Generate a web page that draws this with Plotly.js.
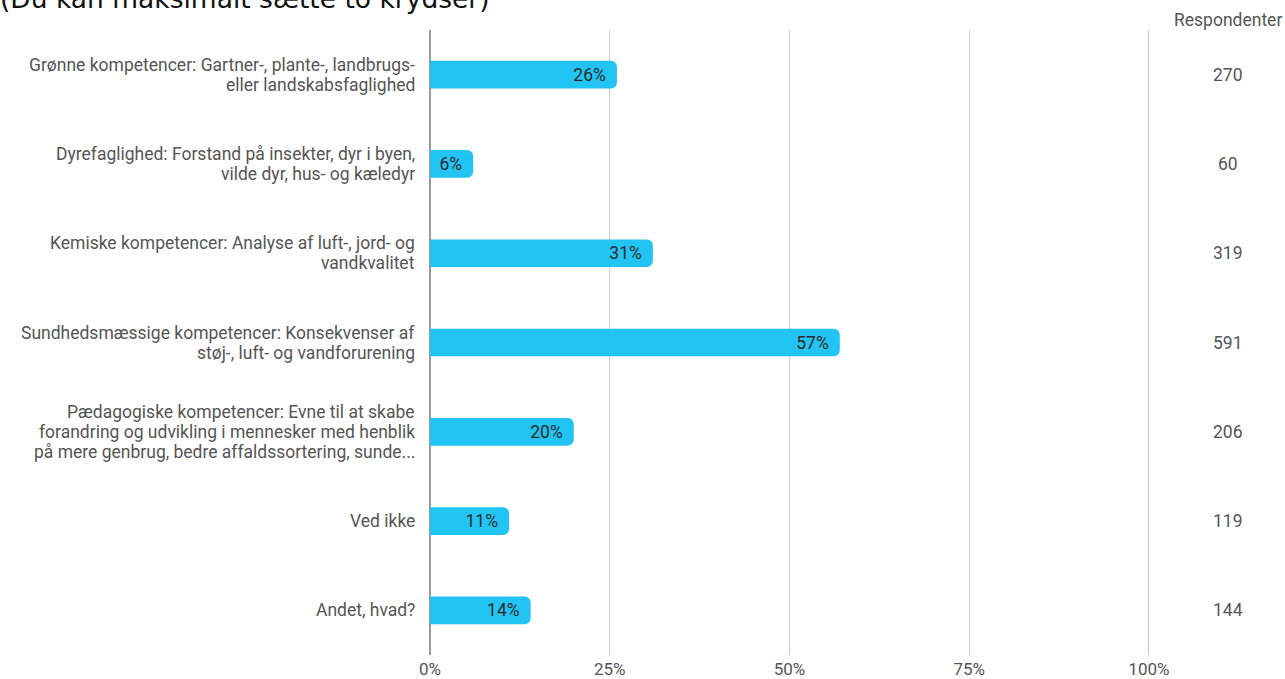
<!DOCTYPE html>
<html>
<head>
<meta charset="utf-8">
<script src="https://cdn.plot.ly/plotly-3.0.1.min.js"></script>
<style>html,body{margin:0;padding:0;background:#fff;}#chart{width:1285px;height:679px;}</style>
</head>
<body>
<div id="chart"></div>
<script>
const categories = [
  "Grønne kompetencer: Gartner-, plante-, landbrugs-<br>eller landskabsfaglighed",
  "Dyrefaglighed: Forstand på insekter, dyr i byen,<br>vilde dyr, hus- og kæledyr",
  "Kemiske kompetencer: Analyse af luft-, jord- og<br>vandkvalitet",
  "Sundhedsmæssige kompetencer: Konsekvenser af<br>støj-, luft- og vandforurening",
  "Pædagogiske kompetencer: Evne til at skabe<br>forandring og udvikling i mennesker med henblik<br>på mere genbrug, bedre affaldssortering, sunde...",
  "Ved ikke",
  "Andet, hvad?"
];
const shares = [0.26, 0.06, 0.31, 0.57, 0.20, 0.11, 0.14];
const respondents = [270, 60, 319, 591, 206, 119, 144];
const tickVals = [0, 0.25, 0.5, 0.75, 1];
const tickLabels = ["0%", "25%", "50%", "75%", "100%"];
const titleText = "(Du kan maksimalt sætte to krydser)";
const columnHeader = "Respondenter";

const FS = 17.5;
const GREY = '#555';

const trace = {
  type: 'bar',
  orientation: 'h',
  x: shares,
  y: categories,
  width: 0.31,
  marker: {color: '#22c4f3', cornerradius: 6},
  text: shares.map(v => Math.round(v * 100) + '%'),
  texttemplate: '%{text}\u2009\u2009',
  textposition: 'inside',
  insidetextanchor: 'end',
  textfont: {family: 'Roboto', size: FS, color: '#2a2a2a'},
  hoverinfo: 'none',
  cliponaxis: false
};

const annotations = [];
// category labels, one annotation per line for tight line spacing
categories.forEach((cat, i) => {
  const lines = cat.split('<br>');
  const n = lines.length;
  lines.forEach((ln, j) => {
    annotations.push({
      xref: 'paper', yref: 'y', x: (416 - 430) / 720, y: cat,
      yshift: ((n - 1) / 2 - j) * 20,
      text: ln, showarrow: false, xanchor: 'right', yanchor: 'middle',
      borderpad: 0,
      font: {family: 'Roboto', size: FS, color: GREY}
    });
  });
});
respondents.forEach((r, i) => {
  annotations.push({
    xref: 'paper', yref: 'y', x: (1228 - 430) / 720, y: categories[i],
    text: String(r), showarrow: false, xanchor: 'center', yanchor: 'middle',
    font: {family: 'Roboto', size: FS, color: GREY}
  });
});
annotations.push({
  xref: 'paper', yref: 'paper', x: (1228 - 430) / 720, y: (655 - 20) / 625,
  text: columnHeader, showarrow: false, xanchor: 'center', yanchor: 'middle',
  font: {family: 'Roboto', size: FS, color: GREY}
});
annotations.push({
  xref: 'paper', yref: 'paper', x: (-2 - 430) / 720, y: (655 - (-1)) / 625,
  text: titleText, showarrow: false, xanchor: 'left', yanchor: 'middle',
  font: {family: 'DejaVu Sans', size: 26.5, color: '#111'}
});

const layout = {
  width: 1285, height: 679,
  margin: {l: 430, r: 135, t: 30, b: 24, pad: 0},
  paper_bgcolor: '#fff', plot_bgcolor: '#fff',
  showlegend: false,
  xaxis: {
    range: [0, 1.0015], tickvals: tickVals, ticktext: tickLabels,
    showgrid: true, gridcolor: '#cccccc', gridwidth: 1,
    zeroline: true, zerolinecolor: '#9a9a9a', zerolinewidth: 2,
    showline: false, ticks: '',
    tickfont: {family: 'Roboto', size: 17, color: GREY},
    ticklabelstandoff: 2, fixedrange: true
  },
  yaxis: {
    autorange: 'reversed', type: 'category',
    showgrid: false, zeroline: false, showline: false, ticks: '',
    showticklabels: false, fixedrange: true
  },
  annotations: annotations
};

Plotly.newPlot('chart', [trace], layout, {displayModeBar: false, staticPlot: true});
</script>
</body>
</html>
